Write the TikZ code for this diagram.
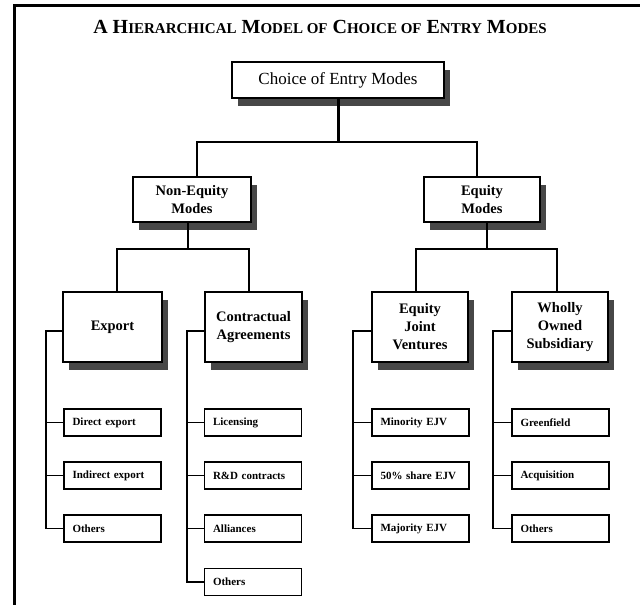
\documentclass[tikz,border=0pt]{standalone}
\usepackage{fontspec}
\setmainfont{Liberation Serif}
\usetikzlibrary{shadows,calc}
\newcommand\smc[1]{{\fontsize{15}{16}\selectfont #1}}
\begin{document}
\begin{tikzpicture}[x=1pt,y=-1pt,
  sbox/.style={draw=black, fill=white, line width=2.2pt, inner sep=2pt, align=center,
    drop shadow={shadow xshift=6pt, shadow yshift=-7.5pt, fill=black!72, opacity=1}},
  rootbox/.style={sbox, minimum width=212pt, minimum height=36pt, font=\fontsize{17}{20}\selectfont},
  midbox/.style={sbox, minimum height=45pt, font=\fontsize{14.5}{18}\selectfont\bfseries},
  catbox/.style={sbox, minimum height=70pt, font=\fontsize{14.5}{18}\selectfont\bfseries},
  leaf/.style={draw=black, fill=white, line width=1.8pt, minimum width=97pt, minimum height=27pt,
    text width=80pt, align=left, inner xsep=8pt, inner ysep=0pt, font=\fontsize{11}{13}\selectfont\bfseries},
  cA/.style={line width=3pt},
  cB/.style={line width=2.2pt},
  cC/.style={line width=1.6pt},
  frame/.style={line width=3pt}]
\useasboundingbox (0,0) rectangle (640,605);
\draw[frame] (14,605) -- (14,5) -- (640,5);

\node (title) at (320,27) {\fontsize{20}{22}\selectfont\bfseries
  A H\smc{IERARCHICAL} M\smc{ODEL OF} C\smc{HOICE OF} E\smc{NTRY} M\smc{ODES}};

\node[rootbox] (root) at (338,80) {Choice of Entry Modes};
\node[midbox, minimum width=118pt] (ne) at (192,199.5) {Non-Equity\\Modes};
\node[midbox, minimum width=116pt] (eq) at (482,199.5) {Equity\\Modes};

\node[catbox, minimum width=99pt] (exp) at (112.5,327) {Export};
\node[catbox, minimum width=97pt] (con) at (253.5,327) {Contractual\\Agreements};
\node[catbox, minimum width=96pt] (ejv) at (420,327) {Equity\\Joint\\Ventures};
\node[catbox, minimum width=96pt] (wos) at (560,327) {Wholly\\Owned\\Subsidiary};

\node[leaf] (e1) at (112.5,422.5) {Direct export};
\node[leaf] (e2) at (112.5,475.5) {Indirect export};
\node[leaf] (e3) at (112.5,528.5) {Others};

\node[leaf] (c1) at (253,422.5) {Licensing};
\node[leaf] (c2) at (253,475.5) {R\&D contracts};
\node[leaf] (c3) at (253,528.5) {Alliances};
\node[leaf] (c4) at (253,582) {Others};

\node[leaf] (j1) at (420.5,422.5) {Minority EJV};
\node[leaf] (j2) at (420.5,475.5) {50\% share EJV};
\node[leaf] (j3) at (420.5,528.5) {Majority EJV};

\node[leaf] (w1) at (560.5,422.5) {Greenfield};
\node[leaf] (w2) at (560.5,475.5) {Acquisition};
\node[leaf] (w3) at (560.5,528.5) {Others};

% level 1
\coordinate (k0) at (338,142);
\draw[cA] (root.south) -- (k0);
\draw[cB] ([xshift=5pt]ne.north) |- (k0) -| ([xshift=-5pt]eq.north);

% level 2
\draw[cB] ([xshift=-4pt]ne.south) -- ++(0,26) coordinate (k1);
\draw[cB] ([xshift=4.5pt]exp.north) |- (k1) -| ([xshift=-4.5pt]con.north);
\draw[cB] ([xshift=5pt]eq.south) -- ++(0,26) coordinate (k2);
\draw[cB] ([xshift=-4pt]ejv.north) |- (k2) -| ([xshift=-3pt]wos.north);

% brackets
\draw[cC] ([yshift=-4pt]exp.west) -- ++(-16,0) coordinate (b1) |- (e3.west);
\draw[cC] (b1 |- e1.west) -- (e1.west);
\draw[cC] (b1 |- e2.west) -- (e2.west);

\draw[cC] ([yshift=-4pt]con.west) -- ++(-17,0) coordinate (b2) |- (c4.west);
\draw[cC] (b2 |- c1.west) -- (c1.west);
\draw[cC] (b2 |- c2.west) -- (c2.west);
\draw[cC] (b2 |- c3.west) -- (c3.west);

\draw[cC] ([yshift=-4pt]ejv.west) -- ++(-18,0) coordinate (b3) |- (j3.west);
\draw[cC] (b3 |- j1.west) -- (j1.west);
\draw[cC] (b3 |- j2.west) -- (j2.west);

\draw[cC] ([yshift=-4pt]wos.west) -- ++(-18,0) coordinate (b4) |- (w3.west);
\draw[cC] (b4 |- w1.west) -- (w1.west);
\draw[cC] (b4 |- w2.west) -- (w2.west);
\end{tikzpicture}
\end{document}
